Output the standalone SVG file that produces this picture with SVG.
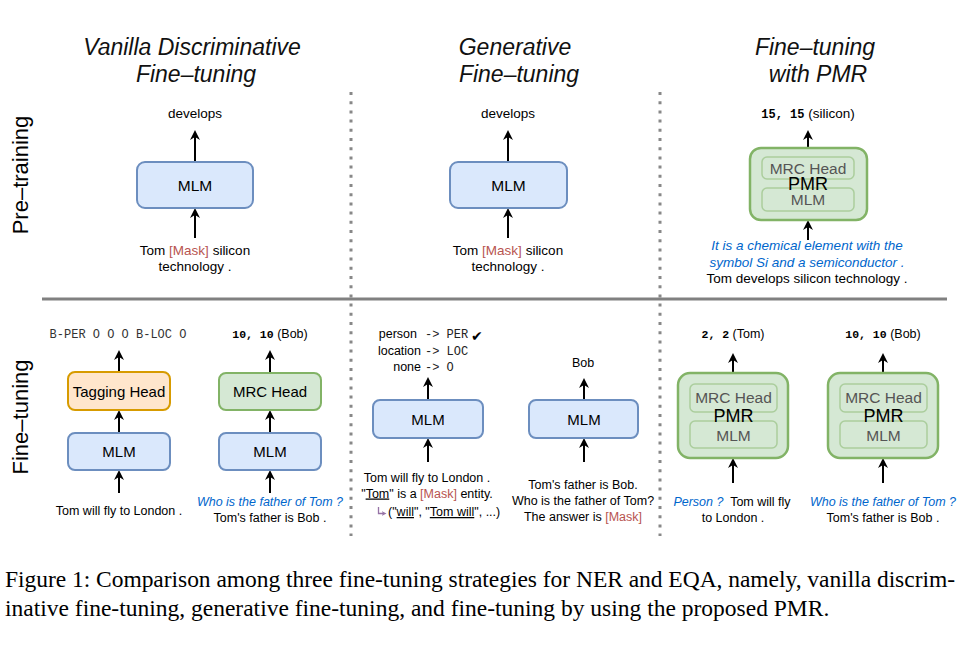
<svg xmlns="http://www.w3.org/2000/svg" width="960" height="655" viewBox="0 0 960 655">
<defs>
<style>
.s{font-family:"Liberation Sans",Arial,Helvetica,sans-serif;fill:#000}
.title{font-size:23px;font-style:italic;text-anchor:middle;fill:#111}
.row{font-size:22px;text-anchor:middle}
.pre{font-size:13.5px;text-anchor:middle}
.ft{font-size:12.5px;text-anchor:middle}
.ftl{font-size:12.5px}
.bt{font-size:15px;text-anchor:middle}
.mono{font-family:"Liberation Mono","Courier New",monospace}
.bm{font-family:"Liberation Mono","Courier New",monospace;font-weight:bold}
.red{fill:#b85450}
.blue{fill:#0066cc;font-style:italic}
.ul{text-decoration:underline}
.blueb{fill:#dae8fc;stroke:#6c8ebf;stroke-width:2}
.orgb{fill:#ffe6cc;stroke:#d79b00;stroke-width:2}
.grnb{fill:#d5e8d4;stroke:#82b366;stroke-width:2}
.pmr{fill:#d5e8d4;stroke:#82b366;stroke-width:2.5}
.inner{fill:#d5e8d4;stroke:#82b366;stroke-opacity:0.5;stroke-width:1.5}
.gt{fill:#555}
.arr{stroke:#000;stroke-width:2;fill:none;marker-end:url(#ah)}
.farr{stroke:#c4c4c4;stroke-width:1;fill:none;marker-end:url(#fah)}
.cap{font-family:"Liberation Serif","Times New Roman",serif;font-size:23.5px;fill:#000}
</style>
<marker id="ah" viewBox="0 0 10 10" refX="3" refY="5" markerWidth="10" markerHeight="10" markerUnits="userSpaceOnUse" orient="auto">
<path d="M0,0 L10,5 L0,10 L3,5 z" fill="#000"/>
</marker>
<marker id="fah" viewBox="0 0 10 10" refX="3" refY="5" markerWidth="5" markerHeight="5" markerUnits="userSpaceOnUse" orient="auto">
<path d="M0,0 L10,5 L0,10 L3,5 z" fill="#c4c4c4"/>
</marker>
<marker id="pah" viewBox="0 0 10 10" refX="3" refY="5" markerWidth="5" markerHeight="5" markerUnits="userSpaceOnUse" orient="auto">
<path d="M0,0 L10,5 L0,10 L3,5 z" fill="#9673a6"/>
</marker>
</defs>
<rect width="960" height="655" fill="#fff"/>

<g id="titles">
<text class="s title" x="192" y="55">Vanilla Discriminative</text>
<text class="s title" x="196" y="82">Fine–tuning</text>
<text class="s title" x="515" y="55">Generative</text>
<text class="s title" x="519" y="82">Fine–tuning</text>
<text class="s title" x="815" y="55">Fine–tuning</text>
<text class="s title" x="818" y="82">with PMR</text>
</g>

<g id="row-labels">
<text class="s row" transform="translate(28,175) rotate(-90)">Pre–training</text>
<text class="s row" transform="translate(28,417) rotate(-90)">Fine–tuning</text>
</g>

<g id="separators">
<line x1="351" y1="92" x2="351" y2="536" stroke="#888" stroke-width="3" stroke-dasharray="3 6.2"/>
<line x1="660" y1="92" x2="660" y2="536" stroke="#888" stroke-width="3" stroke-dasharray="3 6.2"/>
<line x1="42" y1="299" x2="947" y2="299" stroke="#808080" stroke-width="3"/>
</g>

<g id="connectors">
<line class="arr" x1="195" y1="162" x2="195" y2="137"/>
<line class="arr" x1="195" y1="238" x2="195" y2="215"/>
<line class="arr" x1="508" y1="162" x2="508" y2="137"/>
<line class="arr" x1="508" y1="238" x2="508" y2="215"/>
<line class="arr" x1="808" y1="148" x2="808" y2="137"/>
<line class="arr" x1="808" y1="240" x2="808" y2="227"/>
<line class="farr" x1="808" y1="157" x2="808" y2="151"/>
<line class="farr" x1="808" y1="220" x2="808" y2="214"/>

<line class="arr" x1="119" y1="372" x2="119" y2="357"/>
<line class="arr" x1="119" y1="433" x2="119" y2="417"/>
<line class="arr" x1="119" y1="493" x2="119" y2="477"/>
<line class="arr" x1="270" y1="373" x2="270" y2="357"/>
<line class="arr" x1="270" y1="433" x2="270" y2="417"/>
<line class="arr" x1="270" y1="493" x2="270" y2="477"/>

<line class="arr" x1="428" y1="400" x2="428" y2="384"/>
<line class="arr" x1="428" y1="462" x2="428" y2="445"/>
<line class="arr" x1="584" y1="400" x2="584" y2="385"/>
<line class="arr" x1="584" y1="462" x2="584" y2="445"/>

<line class="arr" x1="733" y1="373" x2="733" y2="360"/>
<line class="arr" x1="733" y1="483" x2="733" y2="465"/>
<line class="farr" x1="733" y1="384" x2="733" y2="377"/>
<line class="farr" x1="733" y1="458" x2="733" y2="451"/>
<line class="arr" x1="883" y1="373" x2="883" y2="360"/>
<line class="arr" x1="883" y1="483" x2="883" y2="465"/>
<line class="farr" x1="883" y1="384" x2="883" y2="377"/>
<line class="farr" x1="883" y1="458" x2="883" y2="451"/>

<path d="M378.5,507 V513.5 H383" stroke="#9673a6" stroke-width="1.3" fill="none" marker-end="url(#pah)"/>
</g>

<g id="pre-vanilla">
<text class="s pre" x="195" y="118">develops</text>
<rect class="blueb" x="137" y="162" width="116" height="46" rx="8"/>
<text class="s bt" x="195" y="190.5" style="font-size:15.5px">MLM</text>
<text class="s pre" x="195" y="255">Tom <tspan class="red">[Mask]</tspan> silicon</text>
<text class="s pre" x="195" y="271">technology .</text>
</g>

<g id="pre-generative">
<text class="s pre" x="508" y="118">develops</text>
<rect class="blueb" x="450" y="162" width="117" height="46" rx="8"/>
<text class="s bt" x="508.5" y="190.5" style="font-size:15.5px">MLM</text>
<text class="s pre" x="508" y="255">Tom <tspan class="red">[Mask]</tspan> silicon</text>
<text class="s pre" x="508" y="271">technology .</text>
</g>

<g id="pre-pmr">
<text class="s pre" x="808" y="118"><tspan class="bm" style="font-size:12px">15, 15</tspan> (silicon)</text>
<rect class="pmr" x="750" y="148" width="117" height="72" rx="11"/>
<rect class="inner" x="762" y="157" width="92" height="22" rx="5"/>
<rect class="inner" x="762" y="188" width="92" height="23" rx="5"/>
<text class="s bt gt" x="808" y="174" style="font-size:15.5px">MRC Head</text>
<text class="s bt" x="808" y="190" style="font-size:18px">PMR</text>
<text class="s bt gt" x="808" y="205" style="font-size:15.5px">MLM</text>
<text class="s pre blue" x="807" y="250">It is a chemical element with the</text>
<text class="s pre blue" x="807" y="266.5">symbol Si and a semiconductor .</text>
<text class="s pre" x="807" y="283">Tom develops silicon technology .</text>
</g>

<g id="ft-tagging">
<text class="mono" x="118" y="338" text-anchor="middle" style="font-size:12px;fill:#333">B-PER O O O B-LOC O</text>
<rect class="orgb" x="68" y="372" width="102" height="38" rx="7"/>
<text class="s bt" x="119" y="396.5">Tagging Head</text>
<rect class="blueb" x="68" y="433" width="102" height="37" rx="7"/>
<text class="s bt" x="119" y="457">MLM</text>
<text class="s ft" x="119" y="515">Tom will fly to London .</text>
</g>

<g id="ft-mrc">
<text class="s ft" x="270" y="338"><tspan class="bm" style="font-size:11.5px">10, 10</tspan> (Bob)</text>
<rect class="grnb" x="219" y="373" width="102" height="37" rx="7"/>
<text class="s bt" x="270" y="397">MRC Head</text>
<rect class="blueb" x="219" y="433" width="102" height="37" rx="7"/>
<text class="s bt" x="270" y="457">MLM</text>
<text class="s ft blue" x="270" y="506">Who is the father of Tom ?</text>
<text class="s ft" x="270" y="522">Tom's father is Bob .</text>
</g>

<g id="ft-gen-ner">
<text class="s ftl" x="417" y="338" style="text-anchor:end">person</text>
<text class="s ftl" x="421" y="354.5" style="text-anchor:end">location</text>
<text class="s ftl" x="421" y="371" style="text-anchor:end">none</text>
<text class="mono" x="425" y="338" style="font-size:12px;fill:#222">-&gt; PER</text>
<text class="mono" x="425" y="354.5" style="font-size:12px;fill:#222">-&gt; LOC</text>
<text class="mono" x="425" y="371" style="font-size:12px;fill:#222">-&gt; O</text>
<text x="471" y="341" style="font-family:'DejaVu Sans',sans-serif;font-size:14px">✔</text>
<rect class="blueb" x="373" y="400" width="110" height="38" rx="7"/>
<text class="s bt" x="428" y="424.5">MLM</text>
<text class="s ft" x="427" y="482">Tom will fly to London .</text>
<text class="s ft" x="427" y="497.5">"<tspan class="ul">Tom</tspan>" is a <tspan class="red">[Mask]</tspan> entity.</text>
<text class="s ftl" x="388" y="516">("<tspan class="ul">will</tspan>", "<tspan class="ul">Tom will</tspan>", ...)</text>
</g>

<g id="ft-gen-qa">
<text class="s ft" x="583" y="367">Bob</text>
<rect class="blueb" x="529" y="400" width="109" height="38" rx="7"/>
<text class="s bt" x="584" y="424.5">MLM</text>
<text class="s ft" x="583" y="489">Tom's father is Bob.</text>
<text class="s ft" x="583" y="505">Who is the father of Tom?</text>
<text class="s ft" x="583" y="521">The answer is <tspan class="red">[Mask]</tspan></text>
</g>

<g id="ft-pmr-ner">
<text class="s ft" x="733" y="338"><tspan class="bm" style="font-size:11.5px">2, 2</tspan> (Tom)</text>
<rect class="pmr" x="678" y="373" width="110" height="85" rx="12"/>
<rect class="inner" x="690" y="384" width="87" height="28" rx="5"/>
<rect class="inner" x="690" y="421" width="87" height="27" rx="5"/>
<text class="s bt gt" x="733.5" y="403" style="font-size:15.5px">MRC Head</text>
<text class="s bt" x="733.5" y="421.5" style="font-size:18px">PMR</text>
<text class="s bt gt" x="733.5" y="441" style="font-size:15.5px">MLM</text>
<text class="s ft" x="732" y="506" xml:space="preserve"><tspan class="blue">Person ?</tspan>  Tom will fly</text>
<text class="s ft" x="733" y="522">to London .</text>
</g>

<g id="ft-pmr-qa">
<text class="s ft" x="883" y="338"><tspan class="bm" style="font-size:11.5px">10, 10</tspan> (Bob)</text>
<rect class="pmr" x="828" y="373" width="110" height="85" rx="12"/>
<rect class="inner" x="840" y="384" width="87" height="28" rx="5"/>
<rect class="inner" x="840" y="421" width="87" height="27" rx="5"/>
<text class="s bt gt" x="883.5" y="403" style="font-size:15.5px">MRC Head</text>
<text class="s bt" x="883.5" y="421.5" style="font-size:18px">PMR</text>
<text class="s bt gt" x="883.5" y="441" style="font-size:15.5px">MLM</text>
<text class="s ft blue" x="883" y="506">Who is the father of Tom ?</text>
<text class="s ft" x="883" y="522">Tom's father is Bob .</text>
</g>

<g id="caption">
<text class="cap" x="5" y="587" textLength="950" lengthAdjust="spacing">Figure 1: Comparison among three fine-tuning strategies for NER and EQA, namely, vanilla discrim-</text>
<text class="cap" x="5" y="616">inative fine-tuning, generative fine-tuning, and fine-tuning by using the proposed PMR.</text>
</g>
</svg>
